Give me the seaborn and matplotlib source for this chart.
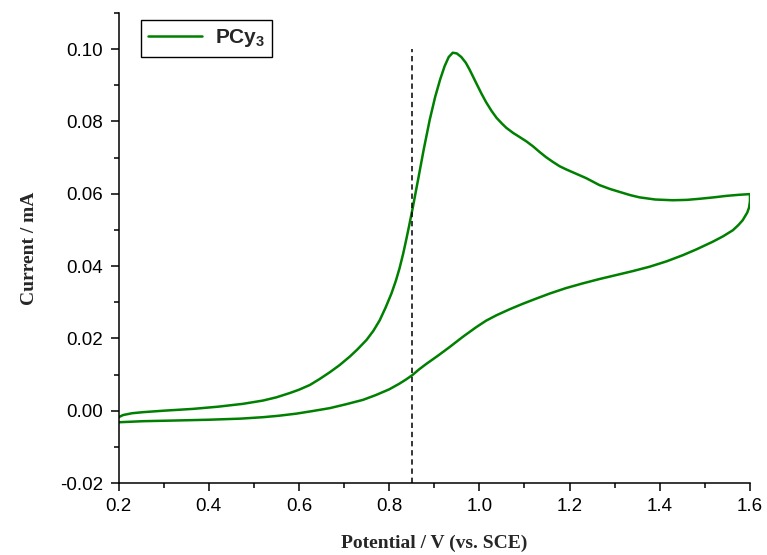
import numpy as np
import pandas as pd
import matplotlib
matplotlib.use("Agg")
import matplotlib.pyplot as plt
import seaborn as sns
from matplotlib.ticker import MultipleLocator, FormatStrFormatter

# Anodic (forward) scan: potential (V vs. SCE) and current (mA)
forward_potential = [0.200, 0.210, 0.230, 0.255, 0.300, 0.365, 0.420, 0.476, 0.520, 0.550,
                     0.580, 0.600, 0.624, 0.645, 0.668, 0.690, 0.713, 0.730, 0.750, 0.765,
                     0.779, 0.792, 0.805, 0.815, 0.823, 0.831, 0.838, 0.845, 0.853, 0.865,
                     0.877, 0.890, 0.902, 0.913, 0.923, 0.932, 0.941, 0.950, 0.960, 0.970,
                     0.978, 0.993, 1.005, 1.015, 1.027, 1.038, 1.050, 1.060, 1.075, 1.089,
                     1.104, 1.119, 1.133, 1.148, 1.163, 1.178, 1.193, 1.215, 1.237, 1.266,
                     1.290, 1.311, 1.335, 1.355, 1.390, 1.429, 1.460, 1.488, 1.520, 1.547,
                     1.575, 1.600]
forward_current = [-0.0018, -0.0012, -0.0007, -0.0004, 0.0000, 0.0005, 0.0011, 0.0019, 0.0028, 0.0037,
                   0.0049, 0.0058, 0.0071, 0.0087, 0.0106, 0.0126, 0.0150, 0.0170, 0.0196, 0.0221,
                   0.0250, 0.0285, 0.0324, 0.0360, 0.0394, 0.0434, 0.0474, 0.0516, 0.0566, 0.0645,
                   0.0725, 0.0805, 0.0868, 0.0916, 0.0953, 0.0978, 0.0990, 0.0988, 0.0978, 0.0962,
                   0.0944, 0.0906, 0.0876, 0.0853, 0.0829, 0.0810, 0.0794, 0.0782, 0.0768, 0.0757,
                   0.0745, 0.0731, 0.0716, 0.0701, 0.0688, 0.0676, 0.0667, 0.0655, 0.0643, 0.0624,
                   0.0613, 0.0605, 0.0596, 0.0590, 0.0584, 0.0582, 0.0583, 0.0586, 0.0590, 0.0594,
                   0.0597, 0.0599]

# Cathodic (reverse) scan
reverse_potential = [1.600, 1.598, 1.594, 1.584, 1.574, 1.562, 1.540, 1.517, 1.481, 1.451,
                     1.415, 1.377, 1.340, 1.303, 1.266, 1.229, 1.192, 1.156, 1.126, 1.097,
                     1.068, 1.038, 1.015, 0.993, 0.963, 0.934, 0.908, 0.883, 0.866, 0.851,
                     0.837, 0.823, 0.800, 0.770, 0.742, 0.705, 0.668, 0.630, 0.595, 0.555,
                     0.520, 0.470, 0.400, 0.330, 0.255, 0.200]
reverse_current = [0.0580, 0.0562, 0.0548, 0.0527, 0.0513, 0.0499, 0.0482, 0.0467, 0.0446, 0.0430,
                   0.0413, 0.0398, 0.0386, 0.0375, 0.0364, 0.0352, 0.0339, 0.0324, 0.0310, 0.0296,
                   0.0281, 0.0264, 0.0249, 0.0231, 0.0204, 0.0176, 0.0152, 0.0130, 0.0114, 0.0098,
                   0.0086, 0.0075, 0.0059, 0.0043, 0.0030, 0.0018, 0.0007, -0.0001, -0.0008, -0.0014,
                   -0.0018, -0.0022, -0.0025, -0.0027, -0.0029, -0.0032]

marker_potential = 0.85
marker_range = [-0.02, 0.10]

series_label = r"PCy$_\mathbf{3}$"

cv = pd.DataFrame({
    "Potential": forward_potential + reverse_potential,
    "Current": forward_current + reverse_current,
})

sns.set_theme(style="ticks")
plt.rcParams["font.family"] = ["Liberation Sans", "DejaVu Sans"]
plt.rcParams["mathtext.fontset"] = "custom"
plt.rcParams["mathtext.bf"] = "Liberation Sans:bold"
plt.rcParams["mathtext.rm"] = "Liberation Sans"

fig = plt.figure(figsize=(7.67, 5.55), dpi=100)
ax = fig.add_axes([0.1546, 0.1297, 0.8232, 0.847])

sns.lineplot(data=cv, x="Potential", y="Current", sort=False, estimator=None,
             color="#008000", linewidth=1.8, label=series_label, ax=ax)

ax.vlines(marker_potential, marker_range[0], marker_range[1], colors="black",
          linewidth=1.1, linestyles=(0, (3.5, 2.5)))

ax.set_xlim(0.2, 1.6)
ax.set_ylim(-0.02, 0.11)
ax.xaxis.set_major_locator(MultipleLocator(0.2))
ax.xaxis.set_minor_locator(MultipleLocator(0.1))
ax.yaxis.set_major_locator(MultipleLocator(0.02))
ax.yaxis.set_minor_locator(MultipleLocator(0.01))
ax.xaxis.set_major_formatter(FormatStrFormatter("%.1f"))
ax.yaxis.set_major_formatter(FormatStrFormatter("%.2f"))

for side in ("top", "right"):
    ax.spines[side].set_visible(False)
for side in ("left", "bottom"):
    ax.spines[side].set_linewidth(1.1)
    ax.spines[side].set_color("black")

ax.tick_params(which="major", direction="out", length=6, width=1.1, labelsize=13.5,
               colors="black", pad=5)
ax.tick_params(which="minor", direction="out", length=3.5, width=1.1, colors="black")

label_font = dict(family=["Liberation Serif", "DejaVu Serif"], weight="bold", size=14)
ax.set_xlabel("Potential / V (vs. SCE)", fontdict=label_font, labelpad=14)
ax.set_ylabel("Current / mA", fontdict=label_font, labelpad=16)

leg = ax.legend(loc="upper left", bbox_to_anchor=(0.035, 0.985), frameon=True,
                fancybox=False, shadow=False, prop=dict(weight="bold", size=15),
                handlelength=2.6, handletextpad=0.6, borderpad=0.35, borderaxespad=0)
leg.get_frame().set_edgecolor("black")
leg.get_frame().set_linewidth(1.0)
leg.get_frame().set_alpha(1)

fig.savefig("out.png", dpi=100)
